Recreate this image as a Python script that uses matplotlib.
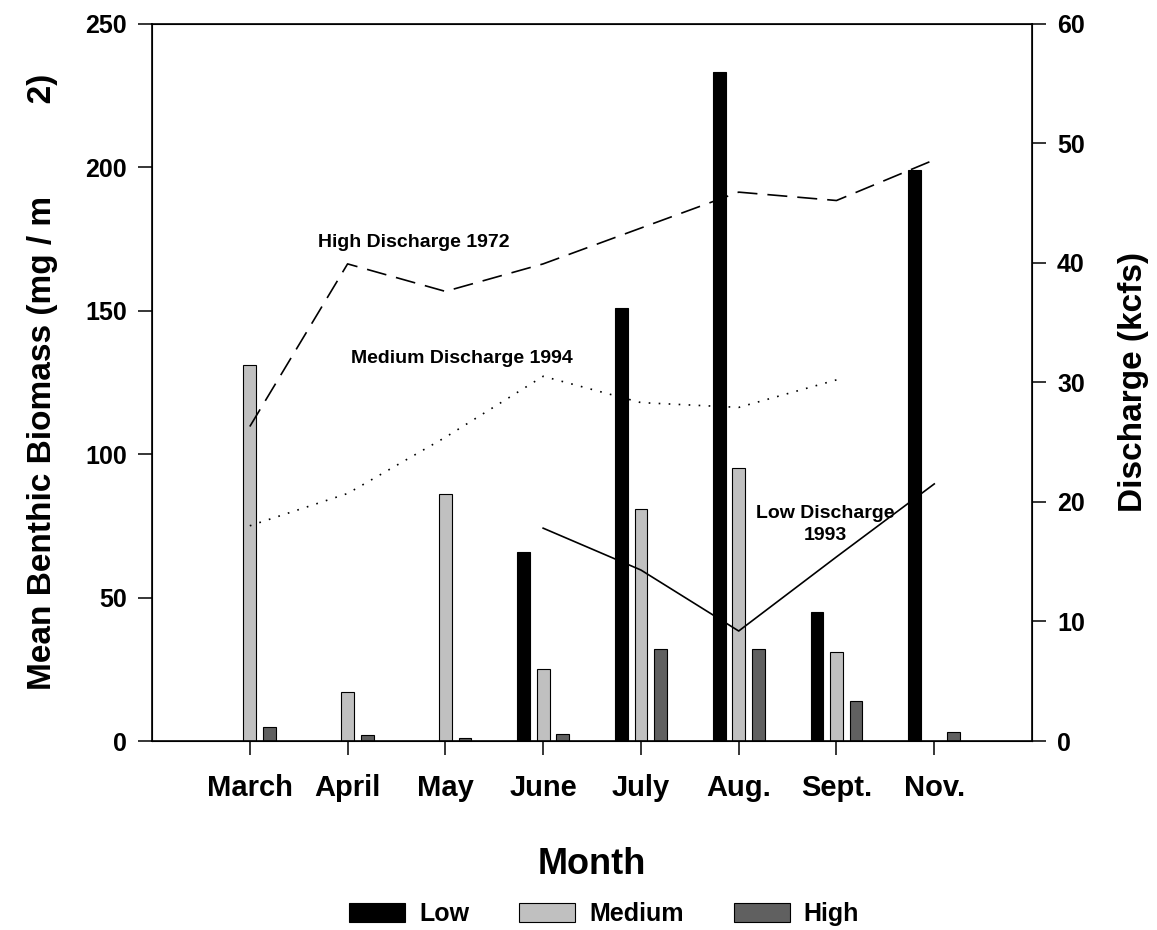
import numpy as np
import matplotlib
matplotlib.use("Agg")
from matplotlib import pyplot as plt

months = ["March", "April", "May", "June", "July", "Aug.", "Sept.", "Nov."]

# benthic biomass (mg/m2) by discharge class
low_bio = [0, 0, 0, 66, 151, 233, 45, 199]
med_bio = [131, 17, 86, 25, 81, 95, 31, 0]
high_bio = [5, 2, 1, 2.5, 32, 32, 14, 3]

# discharge (kcfs)
high_q = [26.3, 39.9, 37.6, 39.9, 42.9, 45.9, 45.2, 48.6]   # 1972
med_q = [18.0, 20.7, 25.4, 30.5, 28.3, 27.9, 30.2]          # 1994, March..Sept.
low_q_months = [3, 4, 5, 6, 7]                              # June..Nov.
low_q = [17.8, 14.3, 9.2, 15.4, 21.5]                       # 1993

plt.rcParams["font.family"] = ["Liberation Sans", "DejaVu Sans"]

fig = plt.figure(figsize=(11.57, 9.30), dpi=100)
ax = fig.add_axes([0.1314, 0.2032, 0.7606, 0.7715])

x = np.arange(1, len(months) + 1)
w = 0.13
off = 0.2
lo_mask = np.array(low_bio) > 0
b1 = ax.bar(x[lo_mask] - off, np.array(low_bio)[lo_mask], w, color="black",
            edgecolor="black", linewidth=0.8, label="Low")
med_mask = np.array(med_bio) > 0
b2 = ax.bar(x[med_mask], np.array(med_bio)[med_mask], w, color="#c0c0c0",
            edgecolor="black", linewidth=0.8, label="Medium")
b3 = ax.bar(x + off, high_bio, w, color="#606060",
            edgecolor="black", linewidth=0.8, label="High")

ax.set_xlim(0, 9)
ax.set_ylim(0, 250)
ax.set_xticks(x)
ax.set_xticklabels(months, fontsize=21, fontweight="bold")
ax.set_yticks([0, 50, 100, 150, 200, 250])
for t in ax.get_yticklabels():
    t.set_fontsize(18)
    t.set_fontweight("bold")
ax.tick_params(axis="both", direction="out", length=10, width=1.1, pad=8)
ax.tick_params(axis="x", pad=14)
ax.set_ylabel("Mean Benthic Biomass (mg / m          2)", fontsize=24,
              fontweight="bold", labelpad=20)
ax.set_xlabel("Month", fontsize=26, fontweight="bold", labelpad=32)
for s in ax.spines.values():
    s.set_linewidth(1.2)

ax2 = ax.twinx()
ax2.set_ylim(0, 60)
ax2.set_yticks(np.arange(0, 61, 10))
for t in ax2.get_yticklabels():
    t.set_fontsize(18)
    t.set_fontweight("bold")
ax2.tick_params(axis="y", direction="out", length=10, width=1.1, pad=8)
ax2.set_ylabel("Discharge (kcfs)", fontsize=24, fontweight="bold", labelpad=24)

ax2.plot(x, high_q, color="black", linestyle=(0, (12, 6)), linewidth=1.2)
ax2.plot(x[:len(med_q)], med_q, color="black", linestyle=(0, (1, 5)), linewidth=1.2)
ax2.plot(x[low_q_months], low_q, color="black", linestyle="-", linewidth=1.2)

ax2.text(2.68, 41.7, "High Discharge 1972", fontsize=14,
         fontweight="bold", ha="center", va="center")
ax2.text(3.17, 32.0, "Medium Discharge 1994", fontsize=14,
         fontweight="bold", ha="center", va="center")
ax2.text(6.89, 18.1, "Low Discharge\n1993", fontsize=14, fontweight="bold",
         ha="center", va="center", linespacing=1.4)

fig.legend(handles=[b1, b2, b3], labels=["Low", "Medium", "High"],
           loc="center", bbox_to_anchor=(0.522, 0.017), ncol=3, frameon=False,
           handlelength=2.24, handleheight=0.84, handletextpad=0.56,
           columnspacing=2.0, borderpad=0.0,
           prop={"size": 18, "weight": "bold"})

fig.savefig("out.png", dpi=100)
